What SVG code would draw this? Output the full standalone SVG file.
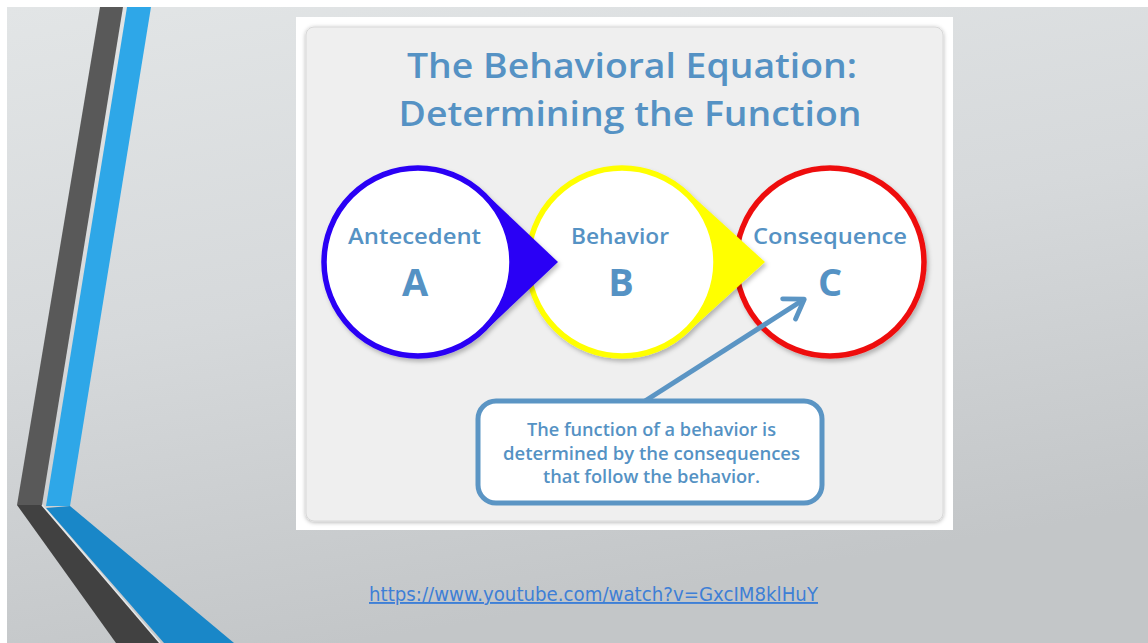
<svg xmlns="http://www.w3.org/2000/svg" width="1148" height="643" viewBox="0 0 1148 643">
<defs>
<linearGradient id="bg" x1="0" y1="0" x2="0.3" y2="1">
<stop offset="0" stop-color="#e2e5e6"/>
<stop offset="0.5" stop-color="#d6d9db"/>
<stop offset="1" stop-color="#c3c6c8"/>
</linearGradient>
<filter id="sh" x="-10%" y="-10%" width="130%" height="130%">
<feDropShadow dx="2" dy="3" stdDeviation="2" flood-color="#000" flood-opacity="0.25"/>
</filter>
<filter id="psh" x="-5%" y="-5%" width="110%" height="110%">
<feDropShadow dx="0" dy="1" stdDeviation="2" flood-color="#000" flood-opacity="0.3"/>
</filter>
<marker id="chev" viewBox="0 0 20 20" refX="14" refY="10" markerWidth="6" markerHeight="6" markerUnits="strokeWidth" orient="auto">
<path d="M3,2 L15,10 L3,18" fill="none" stroke="#5b95c4" stroke-width="3.2" stroke-linecap="round" stroke-linejoin="round"/>
</marker>
<style>
.t{font-family:"Open Sans","Liberation Sans",sans-serif;fill:#5592c4;text-anchor:middle}
.ttl{font-size:35px;font-weight:600}
.lbl{font-size:21.5px;font-weight:600}
.big{font-size:38px;font-weight:700}
.cap{font-size:18px;font-weight:600}
.circ{fill:#fff;stroke-width:5.5}
</style>
</defs>
<rect width="1148" height="643" fill="#fff"/>
<rect x="7" y="7" width="1141" height="636" fill="url(#bg)"/>
<g id="stripes">
<polygon points="100,7 123,7 42,505 17,505" fill="#595959"/>
<polygon points="127,7 151,7 70,506 46,506" fill="#2ea7e8"/>
<polygon points="17,505 42,505 160,643 116,643" fill="#414141"/>
<polygon points="46,508 70,506 234,643 164,643" fill="#1987c8"/>
<line x1="42" y1="505" x2="160" y2="643" stroke="#e8eaea" stroke-width="1.5"/>
</g>
<g id="panel">
<rect x="296" y="17" width="657" height="513" fill="#fff"/>
<rect x="306" y="27" width="637" height="494" rx="8" fill="#efefef" stroke="#d8d8d8" stroke-width="1" filter="url(#psh)"/>
</g>
<g id="title">
<text class="t ttl" x="632" y="78" textLength="450" lengthAdjust="spacingAndGlyphs">The Behavioral Equation:</text>
<text class="t ttl" x="630" y="126" textLength="463" lengthAdjust="spacingAndGlyphs">Determining the Function</text>
</g>
<g id="nodeC" filter="url(#sh)">
<circle class="circ" cx="830" cy="262" r="94" stroke="#ee1111"/>
</g>
<g id="nodeB" filter="url(#sh)">
<polygon points="622,262 688,192 765,262 688,332" fill="#ffff00"/>
<circle class="circ" cx="622" cy="262" r="94" stroke="#ffff00"/>
</g>
<g id="nodeA" filter="url(#sh)">
<polygon points="418,262 484,192 558,262 484,332" fill="#2a00f5"/>
<circle class="circ" cx="418" cy="262" r="94" stroke="#2a00f5"/>
</g>
<g id="labels">
<text class="t lbl" x="414.5" y="244" textLength="133" lengthAdjust="spacingAndGlyphs">Antecedent</text>
<text class="t big" x="415" y="296">A</text>
<text class="t lbl" x="620" y="244" textLength="98" lengthAdjust="spacingAndGlyphs">Behavior</text>
<text class="t big" x="621" y="296">B</text>
<text class="t lbl" x="830" y="244" textLength="154" lengthAdjust="spacingAndGlyphs">Consequence</text>
<text class="t big" x="830" y="296">C</text>
</g>
<g id="connectors">
<line x1="645" y1="401" x2="803" y2="300" stroke="#5b95c4" stroke-width="5" marker-end="url(#chev)"/>
</g>
<g id="callout">
<rect x="478" y="401" width="344" height="102" rx="18" fill="#fff" stroke="#5b95c4" stroke-width="5"/>
<text class="t cap" x="651.5" y="436" textLength="249" lengthAdjust="spacingAndGlyphs">The function of a behavior is</text>
<text class="t cap" x="651.5" y="460" textLength="297" lengthAdjust="spacingAndGlyphs">determined by the consequences</text>
<text class="t cap" x="651.5" y="483" textLength="217" lengthAdjust="spacingAndGlyphs">that follow the behavior.</text>
</g>
<g id="link">
<text x="369" y="601" textLength="449" lengthAdjust="spacingAndGlyphs" font-family="'DejaVu Sans','Liberation Sans',sans-serif" font-size="19" fill="#3e7fd6" text-decoration="underline">https://www.youtube.com/watch?v=GxcIM8klHuY</text>
</g>
</svg>
